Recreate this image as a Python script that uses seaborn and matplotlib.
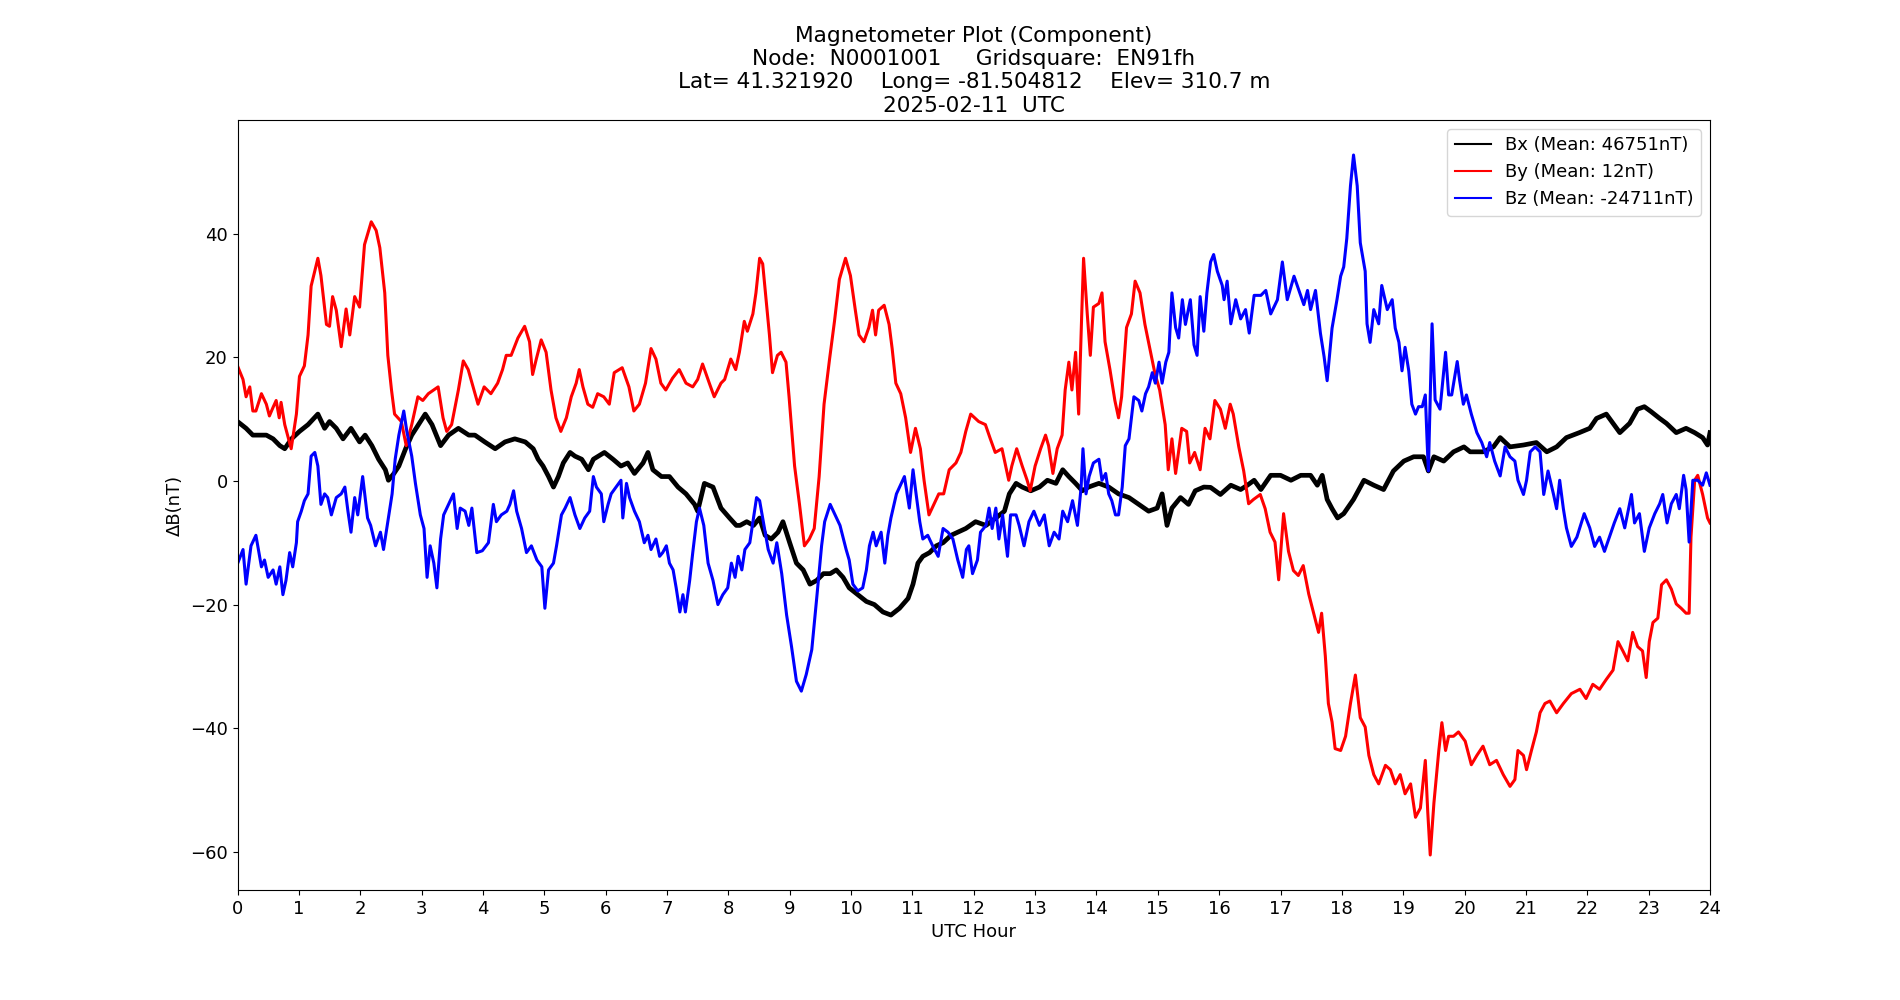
"""
Magnetometer component plot (Bx, By, Bz deviations) for one UTC day.
"""

import numpy as np
import pandas as pd
import seaborn as sns
import matplotlib
matplotlib.use("Agg")
import matplotlib.pyplot as plt

plt.rcParams["font.size"] = 13

# values (hour, nT deviation from daily mean)
bx_hours = [0.0, 0.14, 0.25, 0.36, 0.47, 0.58, 0.69, 0.77, 0.88, 1.01, 1.15, 1.31, 1.42, 1.5, 1.61, 1.72, 1.85, 1.99,
            2.08, 2.19, 2.3, 2.41, 2.46, 2.55, 2.63, 2.74, 2.84, 2.95, 3.06, 3.17, 3.31, 3.44, 3.6, 3.77,
            3.87, 4.03, 4.2, 4.36, 4.52, 4.69, 4.82, 4.9, 4.98, 5.07, 5.15, 5.23, 5.31, 5.42, 5.5, 5.61, 5.72, 5.8,
            5.98, 6.12, 6.25, 6.36, 6.47, 6.61, 6.69, 6.77, 6.91, 7.04, 7.18, 7.31, 7.45, 7.5, 7.61, 7.75, 7.88,
            8.02, 8.13, 8.19, 8.3, 8.41, 8.51, 8.6, 8.7, 8.81, 8.89, 9.0, 9.11, 9.22, 9.33, 9.44, 9.55, 9.66, 9.76,
            9.87, 9.97, 10.11, 10.25, 10.38, 10.52, 10.65, 10.79, 10.93, 11.01, 11.09, 11.17, 11.28, 11.39, 11.5,
            11.63, 11.74, 11.87, 12.03, 12.2, 12.36, 12.5, 12.58, 12.69, 12.79, 12.93, 13.07, 13.2, 13.34, 13.45,
            13.55, 13.66, 13.77, 13.87, 14.04, 14.2, 14.36, 14.53, 14.69, 14.85, 14.99, 15.07, 15.15, 15.23, 15.37,
            15.5, 15.61, 15.75, 15.86, 16.02, 16.19, 16.35, 16.46, 16.57, 16.68, 16.84, 17.0, 17.17, 17.33, 17.49,
            17.6, 17.68, 17.76, 17.84, 17.93, 18.03, 18.19, 18.36, 18.52, 18.68, 18.84, 19.01, 19.17, 19.33, 19.41,
            19.5, 19.66, 19.82, 19.99, 20.09, 20.3, 20.47, 20.58, 20.74, 20.96, 21.17, 21.34, 21.5, 21.66, 21.87,
            22.04, 22.15, 22.31, 22.42, 22.53, 22.69, 22.82, 22.93, 23.04, 23.18, 23.29, 23.45, 23.61, 23.75,
            23.88, 23.96, 24.0]
bx_vals = [9.6, 8.5, 7.4, 7.4, 7.4, 6.8, 5.7, 5.2, 6.8, 8.0, 9.1, 10.8, 8.5, 9.6, 8.5, 6.8, 8.5, 6.3,
           7.4, 5.7, 3.5, 1.8, 0.1, 1.2, 2.4, 5.2, 7.4, 9.1, 10.8, 9.1, 5.7, 7.4, 8.5, 7.4,
           7.4, 6.3, 5.2, 6.3, 6.8, 6.3, 5.2, 3.5, 2.4, 0.7, -1.0, 0.7, 2.9, 4.6, 4.0, 3.5, 1.8, 3.5,
           4.6, 3.5, 2.4, 2.9, 1.2, 2.9, 4.6, 1.8, 0.7, 0.7, -1.0, -2.1, -3.8, -4.9, -0.4, -1.0, -4.4,
           -6.0, -7.2, -7.2, -6.6, -7.2, -6.0, -8.8, -9.4, -8.3, -6.6, -10.0, -13.3, -14.4, -16.7, -16.1, -15.0, -15.0, -14.4,
           -15.6, -17.3, -18.4, -19.5, -20.0, -21.2, -21.7, -20.6, -19.0, -16.7, -13.3, -12.2, -11.6, -10.5, -10.0,
           -8.8, -8.3, -7.7, -6.6, -7.2, -6.0, -4.9, -2.1, -0.4, -1.0, -1.6, -1.0, 0.1, -0.4, 1.8,
           0.7, -0.4, -1.6, -1.0, -0.4, -1.0, -2.1, -2.7, -3.8, -4.9, -4.4, -2.1, -7.2, -4.4, -2.7,
           -3.8, -1.6, -1.0, -1.05, -2.2, -0.7, -1.4, -0.7, 0.1, -1.4, 0.9, 0.9, 0.1, 0.9, 0.9,
           -0.7, 0.9, -3.0, -4.5, -6.0, -5.3, -3.0, 0.1, -0.7, -1.4, 1.6, 3.2, 3.9, 3.9, 1.6,
           3.9, 3.2, 4.7, 5.5, 4.7, 4.7, 5.5, 7.0, 5.5, 5.8, 6.2, 4.7, 5.5, 7.0, 7.8,
           8.5, 10.1, 10.8, 9.3, 7.8, 9.3, 11.6, 12.0, 11.2, 10.1, 9.3, 7.8, 8.5, 7.8,
           7.0, 5.8, 7.8]

by_hours = [0.0, 0.09, 0.14, 0.2, 0.25, 0.3, 0.39, 0.47, 0.52, 0.58, 0.63, 0.68, 0.71, 0.77, 0.875, 0.96, 1.01,
            1.09, 1.15, 1.2, 1.31, 1.36, 1.45, 1.5, 1.55, 1.61, 1.69, 1.77, 1.83, 1.91, 1.99,
            2.07, 2.18, 2.26, 2.32, 2.4, 2.45, 2.51, 2.56, 2.67, 2.75, 2.84, 2.94, 3.02, 3.11, 3.27, 3.35, 3.41,
            3.49, 3.6, 3.68, 3.76, 3.84,
            3.92, 4.02, 4.13, 4.24, 4.32, 4.38, 4.46, 4.57, 4.68, 4.76, 4.81, 4.87, 4.95, 5.03, 5.11, 5.19, 5.27,
            5.36, 5.44, 5.52, 5.57, 5.63, 5.71, 5.79, 5.87, 5.97,
            6.06, 6.14, 6.27, 6.38, 6.46, 6.55, 6.65, 6.74, 6.82, 6.9, 6.98, 7.09, 7.2, 7.31, 7.42, 7.5, 7.58,
            7.69, 7.77, 7.88,
            7.94, 8.04, 8.12, 8.18, 8.26, 8.31, 8.4, 8.45, 8.51, 8.56, 8.67, 8.72, 8.8, 8.86, 8.94, 8.99, 9.08,
            9.16, 9.24, 9.32, 9.4, 9.48, 9.56, 9.65, 9.73, 9.81,
            9.91, 9.99, 10.07, 10.13, 10.21, 10.29, 10.35, 10.4, 10.45, 10.54, 10.62, 10.67, 10.73, 10.81, 10.89,
            10.97, 11.05, 11.13, 11.19, 11.27, 11.35, 11.43, 11.51, 11.6, 11.71, 11.79, 11.87, 11.95,
            12.08, 12.19, 12.27, 12.35, 12.46, 12.57, 12.62, 12.7, 12.79, 12.87, 12.92, 13.0, 13.09, 13.17, 13.22,
            13.29, 13.36, 13.44, 13.49, 13.55, 13.6, 13.66, 13.71, 13.76, 13.79, 13.85, 13.9, 13.95, 14.04, 14.09,
            14.14, 14.22, 14.3, 14.36, 14.41, 14.49, 14.57, 14.63, 14.71, 14.79, 14.87, 14.95, 15.03, 15.12, 15.17,
            15.23, 15.29, 15.39, 15.47, 15.52, 15.6, 15.69, 15.77, 15.85,
            15.93, 16.02, 16.1, 16.18, 16.23, 16.32, 16.4, 16.48, 16.56, 16.67, 16.75, 16.83, 16.91, 16.97, 17.05,
            17.13, 17.21, 17.29, 17.37, 17.46, 17.54, 17.62, 17.67, 17.73, 17.78, 17.84, 17.89,
            17.98, 18.06, 18.14, 18.22, 18.3, 18.38, 18.44, 18.52, 18.6, 18.71, 18.79, 18.87, 18.95, 19.03, 19.12,
            19.2, 19.28, 19.36, 19.4, 19.44, 19.5, 19.58, 19.63, 19.69, 19.74, 19.82, 19.9,
            20.01, 20.11, 20.2, 20.3, 20.41, 20.52, 20.63, 20.74, 20.82, 20.87, 20.96, 21.01, 21.09, 21.17, 21.23,
            21.31, 21.39, 21.5, 21.61, 21.74, 21.88,
            21.98, 22.09, 22.2, 22.31, 22.42, 22.5, 22.58, 22.66, 22.74, 22.82, 22.9, 22.96, 23.01, 23.07, 23.15,
            23.21, 23.29, 23.37, 23.45, 23.53, 23.61, 23.66, 23.69, 23.75, 23.8, 23.88, 23.96, 24.0]
by_vals = [18.6, 16.4, 13.6, 15.2, 11.3, 11.3, 14.1, 12.4, 10.5, 11.9, 13.0, 10.2, 12.7, 9.1, 5.2, 10.8, 16.9,
           18.6, 23.6, 31.5, 36.0, 33.2, 25.3, 25.0, 29.8, 27.6, 21.7, 27.8, 23.6, 29.8, 28.1,
           38.2, 41.9, 40.5, 37.7, 30.4, 20.3, 14.7, 10.8, 9.6, 5.7, 9.1, 13.6, 13.0, 14.1, 15.2, 10.2, 8.0,
           9.1, 14.7, 19.4, 18.0, 15.2,
           12.4, 15.2, 14.1, 15.8, 18.0, 20.3, 20.3, 23.1, 25.0, 22.5, 17.2, 19.7, 22.8, 20.8, 14.7, 10.2, 8.0,
           10.2, 13.6, 15.8, 18.0, 15.2, 12.4, 11.9, 14.1, 13.6,
           12.4, 17.5, 18.3, 15.2, 11.3, 12.4, 15.8, 21.4, 19.7, 15.8, 14.7, 16.6, 18.0, 15.8, 15.2, 16.4, 18.9,
           15.8, 13.6, 15.8,
           16.4, 19.7, 18.0, 20.8, 25.8, 24.2, 27.0, 30.4, 36.0, 35.1, 23.6, 17.5, 20.3, 20.8, 19.2, 13.6, 2.4,
           -3.8, -10.5, -9.4, -7.7, 0.7, 12.4, 19.7, 25.8, 32.6,
           36.0, 33.2, 27.6, 23.6, 22.5, 24.8, 27.6, 23.6, 27.6, 28.4, 25.3, 21.4, 15.8, 14.1, 10.2,
           4.6, 8.5, 5.2, 0.1, -5.5, -3.8, -2.1, -2.1, 1.8, 2.9, 4.6, 8.0, 10.8,
           9.6, 9.1, 6.8, 4.6, 5.2, 0.1, 2.4, 5.2, 2.4, 0.1, -1.6, 2.4, 5.2, 7.4, 5.7,
           1.2, 5.2, 7.4, 14.7, 19.2, 14.7, 20.8, 10.8, 27.0, 36.0, 27.0, 20.3, 28.1, 28.7, 30.4,
           22.5, 18.0, 13.0, 10.2, 13.6, 24.8, 27.0, 32.3, 30.4, 25.3, 21.4, 17.5, 14.7, 9.1, 1.8,
           6.8, 1.2, 8.5, 8.0, 2.9, 4.6, 1.8, 8.5, 6.8,
           13.0, 11.6, 8.5, 12.4, 10.8, 5.5, 1.6, -3.7, -3.0, -2.2, -4.5, -8.3, -9.9, -16.0, -5.3,
           -11.4, -14.5, -15.3, -13.7, -18.3, -21.4, -24.5, -21.4, -28.3, -36.0, -39.0, -43.3,
           -43.6, -41.3, -36.0, -31.4, -38.3, -39.8, -44.4, -47.5, -49.0, -46.0, -46.7, -49.0, -47.5, -50.6, -49.0,
           -54.4, -52.9, -45.2, -53.6, -60.5, -52.1, -43.6, -39.1, -43.6, -41.3, -41.3, -40.6,
           -42.1, -45.9, -44.4, -42.9, -45.9, -45.2, -47.5, -49.4, -48.3, -43.6, -44.4, -46.7, -43.6, -40.6, -37.5,
           -36.0, -35.6, -37.5, -36.0, -34.4, -33.7,
           -35.2, -32.9, -33.7, -32.1, -30.6, -26.0, -27.5, -29.1, -24.5, -26.8, -27.5, -31.8, -26.0, -22.9, -22.2,
           -16.8, -16.0, -17.5, -19.9, -20.6, -21.4, -21.4, -9.1, 0.1, 0.9, -2.2, -6.0, -6.8]

bz_hours = [0.0, 0.09, 0.14, 0.22, 0.3, 0.39, 0.44, 0.5, 0.58, 0.63, 0.69, 0.74, 0.79, 0.85, 0.9, 0.96, 0.98,
            1.04, 1.09, 1.15, 1.2, 1.26, 1.31, 1.36, 1.42, 1.47, 1.53, 1.61, 1.69, 1.75, 1.8, 1.85, 1.91, 1.96,
            2.04, 2.12,
            2.17, 2.25, 2.33, 2.38, 2.46, 2.52, 2.57, 2.63, 2.71, 2.76, 2.84, 2.9, 2.98, 3.04, 3.09, 3.14, 3.2,
            3.25, 3.31, 3.36, 3.44, 3.52, 3.58, 3.63, 3.71, 3.77, 3.82, 3.9,
            3.99, 4.09, 4.17, 4.22, 4.3, 4.39, 4.44, 4.5, 4.55, 4.63, 4.71, 4.79, 4.88, 4.96, 5.01, 5.07, 5.15,
            5.2, 5.28, 5.34, 5.42, 5.5, 5.58, 5.66, 5.74, 5.8, 5.85,
            5.93, 5.97, 6.04, 6.09, 6.17, 6.25, 6.28, 6.34, 6.39, 6.47, 6.55, 6.63, 6.69, 6.74, 6.82, 6.88, 6.93,
            6.99, 7.04, 7.1, 7.15, 7.21, 7.26, 7.3, 7.37, 7.42, 7.48, 7.53, 7.6, 7.67, 7.75, 7.83, 7.91, 7.99,
            8.05,
            8.11, 8.16, 8.22, 8.27, 8.35, 8.41, 8.46, 8.51, 8.57, 8.65, 8.73, 8.79, 8.87, 8.95, 9.03, 9.11, 9.19,
            9.27, 9.36, 9.44, 9.52, 9.57, 9.66, 9.74, 9.82,
            9.92, 9.97, 10.03, 10.11, 10.19, 10.25, 10.3, 10.36, 10.41, 10.49, 10.55, 10.6, 10.65, 10.74, 10.82,
            10.87, 10.95, 11.01, 11.06, 11.12, 11.17, 11.25, 11.33, 11.42, 11.5, 11.58, 11.66, 11.74, 11.82, 11.88,
            11.92, 11.98, 12.06, 12.11, 12.2, 12.25, 12.3, 12.36, 12.41, 12.47, 12.55, 12.6, 12.69, 12.74, 12.82,
            12.9, 12.98, 13.07, 13.15, 13.23, 13.31, 13.39, 13.45, 13.53, 13.61, 13.69, 13.75, 13.78, 13.83, 13.88,
            13.95, 14.04, 14.09, 14.15, 14.2, 14.25, 14.31, 14.36, 14.42, 14.47, 14.53, 14.61, 14.69, 14.74, 14.8,
            14.85, 14.91, 14.96, 15.02, 15.07, 15.13, 15.18, 15.23, 15.29, 15.34, 15.4, 15.45, 15.53, 15.59, 15.64,
            15.69, 15.75, 15.8,
            15.86, 15.91, 15.97, 16.05, 16.08, 16.13, 16.19, 16.27, 16.35, 16.43, 16.49, 16.57, 16.68, 16.76, 16.84,
            16.95, 17.03, 17.11, 17.22, 17.3, 17.38, 17.44, 17.49, 17.57, 17.65, 17.71, 17.76, 17.84,
            17.92, 17.98, 18.03, 18.08, 18.14, 18.19, 18.25, 18.3, 18.38, 18.41, 18.46, 18.52, 18.6, 18.65, 18.74,
            18.82, 18.87, 18.93, 18.98, 19.03, 19.09, 19.14, 19.2, 19.25, 19.31, 19.36, 19.39, 19.41, 19.47, 19.52,
            19.6, 19.69, 19.74, 19.79, 19.88,
            19.92, 19.98, 20.03, 20.11, 20.2, 20.28, 20.36, 20.41, 20.49, 20.58, 20.66, 20.74, 20.82, 20.87, 20.96,
            21.01, 21.07, 21.15, 21.23, 21.29, 21.36, 21.45, 21.5, 21.55, 21.61, 21.66, 21.74, 21.83,
            21.95, 22.04, 22.12, 22.2, 22.28, 22.36, 22.44, 22.53, 22.61, 22.72, 22.77, 22.85, 22.93, 23.01, 23.1,
            23.18, 23.23, 23.3, 23.37, 23.45, 23.5, 23.57, 23.61, 23.66, 23.72, 23.8, 23.88, 23.94, 24.0]
bz_vals = [-13.4, -11.1, -16.7, -10.5, -8.8, -13.9, -12.8, -15.6, -14.4, -16.7, -13.9, -18.4, -16.1, -11.6, -13.9, -10.0, -6.6,
           -4.9, -3.2, -2.1, 4.0, 4.6, 2.4, -3.8, -2.1, -2.7, -5.5, -2.7, -2.1, -1.0, -4.9, -8.3, -2.7, -5.5,
           0.7, -6.0,
           -7.2, -10.5, -8.3, -11.1, -6.0, -2.1, 3.5, 7.4, 11.3, 8.0, 4.0, -0.4, -5.5, -7.7, -15.6, -10.5, -13.3,
           -17.3, -9.4, -5.5, -3.8, -2.1, -7.7, -4.4, -4.9, -7.2, -4.4, -11.6,
           -11.3, -10.0, -3.8, -6.6, -5.5, -4.9, -3.8, -1.6, -4.9, -7.7, -11.6, -10.5, -12.8, -13.9, -20.6, -14.4, -13.3,
           -10.5, -5.5, -4.4, -2.7, -5.5, -7.7, -6.0, -4.9, 0.7, -1.0,
           -2.1, -6.6, -3.8, -2.1, -1.0, 0.1, -6.0, -0.4, -2.7, -4.9, -6.6, -10.0, -8.8, -11.1, -9.4, -12.2, -11.6,
           -10.5, -13.3, -14.4, -17.3, -21.2, -18.4, -21.2, -16.1, -11.6, -6.6, -4.4, -7.2, -13.3, -16.1, -20.0, -18.4, -17.3,
           -13.3,
           -15.6, -12.2, -14.4, -11.1, -10.0, -6.0, -2.7, -3.2, -6.6, -11.1, -13.3, -10.0, -15.0, -21.7, -26.8, -32.4, -34.0,
           -31.3, -27.3, -19.0, -10.5, -6.6, -3.8, -5.5, -7.2,
           -11.1, -12.8, -16.7, -17.8, -17.3, -14.4, -10.5, -8.3, -10.5, -8.3, -13.3, -8.8, -6.0, -2.1, -0.4,
           0.7, -4.4, 1.8, -2.1, -6.6, -9.4, -8.8, -10.5, -12.2, -7.7, -8.3, -9.4, -12.8, -15.6, -11.1,
           -10.5, -15.0, -12.8, -8.3, -7.2, -4.4, -7.7, -4.4, -9.4, -5.5, -12.2, -5.5, -5.5, -7.2, -10.5,
           -6.6, -4.9, -7.2, -5.5, -10.5, -8.3, -9.4, -4.9, -6.6, -3.2, -7.2, -1.0, 5.2, -2.1, 0.7,
           2.9, 3.5, 0.1, 1.2, -2.1, -3.2, -5.5, -5.5, -1.0, 5.7, 6.8, 13.6, 13.0, 11.3, 14.1,
           15.2, 17.5, 15.8, 19.2, 15.8, 19.2, 20.8, 30.4, 24.8, 23.1, 29.3, 25.3, 29.3, 22.0, 20.3,
           29.8, 24.2, 30.4,
           35.4, 36.6, 33.9, 31.6, 29.3, 32.3, 25.4, 29.3, 26.2, 27.7, 23.9, 30.0, 30.0, 30.8, 27.0,
           29.3, 35.4, 29.3, 33.1, 30.8, 28.5, 30.8, 27.7, 30.8, 23.9, 20.1, 16.2, 24.7,
           29.3, 33.1, 34.6, 39.2, 47.7, 52.7, 47.7, 38.5, 33.9, 25.4, 22.4, 27.7, 25.4, 31.6, 27.7,
           29.3, 24.7, 22.4, 17.8, 21.6, 17.8, 12.4, 10.8, 12.0, 12.0, 13.9, 6.2, 1.6, 25.4, 13.1,
           11.6, 20.8, 13.9, 13.9, 19.3,
           16.2, 12.4, 13.9, 10.8, 7.8, 6.2, 3.9, 6.2, 3.2, 0.8, 5.5, 3.9, 3.2, 0.1, -2.2,
           0.1, 4.7, 5.5, 4.7, -2.2, 1.6, -2.2, -4.5, 0.1, -4.5, -7.6, -10.6, -9.1,
           -5.3, -7.6, -10.6, -9.1, -11.4, -9.1, -6.8, -4.5, -7.6, -2.2, -6.8, -5.3, -11.4, -7.6, -5.3,
           -3.7, -2.2, -6.8, -3.7, -2.2, -4.5, 0.9, -1.4, -9.9, 0.1, 0.1, -0.7, 1.3, -0.7]

bx_mean, by_mean, bz_mean = 46751, 12, -24711

node = "N0001001"
grid = "EN91fh"
lat, lon, elev = "41.321920", "-81.504812", "310.7"
day = "2025-02-11"

fig, ax = plt.subplots(figsize=(19, 10), dpi=100)

sns.lineplot(x=bx_hours, y=bx_vals, color="black", linewidth=3.4, sort=False,
             label=f"Bx (Mean: {bx_mean}nT)", ax=ax)
sns.lineplot(x=by_hours, y=by_vals, color="red", linewidth=2.2, sort=False,
             label=f"By (Mean: {by_mean}nT)", ax=ax)
sns.lineplot(x=bz_hours, y=bz_vals, color="blue", linewidth=2.2, sort=False,
             label=f"Bz (Mean: {bz_mean}nT)", ax=ax)

ax.set_xlim(0, 24)
ax.set_xticks(range(0, 25))
ax.set_xlabel("UTC Hour")
ax.set_ylabel("ΔB(nT)")
ax.set_title("Magnetometer Plot (Component)\n"
             f"Node:  {node}     Gridsquare:  {grid}\n"
             f"Lat= {lat}    Long= {lon}    Elev= {elev} m\n"
             f"{day}  UTC")

leg = ax.legend(loc="upper right")
for line in leg.get_lines():
    line.set_linewidth(1.5)

plt.savefig("out.png")
